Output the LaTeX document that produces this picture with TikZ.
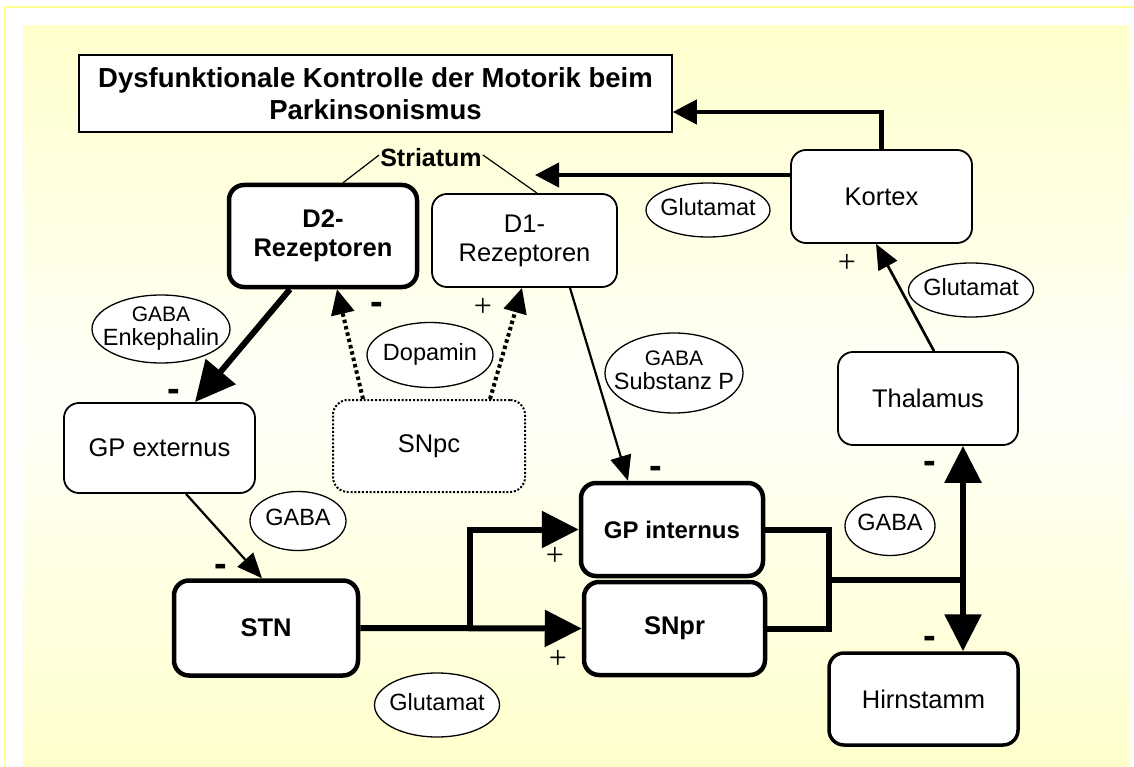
\documentclass[tikz,border=0pt]{standalone}
\usepackage{fontspec}
\setmainfont{Liberation Sans}
\newfontfamily\plusfont{Liberation Serif}
\usepackage{xcolor}
\usepackage{tikz}
\usetikzlibrary{arrows.meta,positioning,shapes.geometric}
\definecolor{paleyel}{RGB}{255,255,204}
\definecolor{rimyel}{RGB}{255,255,150}
\newcommand{\elltxt}[1]{\makebox[0pt]{\begin{tabular}{@{}c@{}}#1\end{tabular}}}

\begin{document}
\begin{tikzpicture}[x=1pt, y=-1pt,
    box/.style={draw, fill=white, rounded corners=15pt, line width=1.8pt, align=center,
      inner sep=0pt, font=\fontsize{25.5}{29}\selectfont},
    boldbox/.style={box, line width=4.5pt, font=\fontsize{25.5}{29}\selectfont\bfseries},
    ell/.style={draw, ellipse, fill=white, line width=1.3pt, inner sep=0pt,
      font=\fontsize{23.5}{22}\selectfont},
    minussign/.style={inner sep=0pt, font=\fontsize{38}{38}\selectfont\bfseries},
    plussign/.style={inner sep=0pt, font=\fontsize{32}{32}\selectfont\plusfont},
    arr/.style={line width=2.2pt, -{Triangle[length=25pt, width=21pt]}},
    midarr/.style={line width=4.3pt, -{Triangle[length=24pt, width=24pt]}},
    fatline/.style={line width=6pt},
    fatarr/.style={fatline, -{Triangle[length=37pt, width=36pt]}},
    dotarr/.style={line width=4pt, dash pattern=on 3.5pt off 3pt,
      -{Triangle[length=25pt, width=23pt]}},
    striline/.style={line width=1.2pt}]

  \useasboundingbox (0,0) rectangle (1134,767);
  \fill[top color=paleyel, bottom color=paleyel, middle color=paleyel!12]
    (23,26) rectangle (1129,767);
  \draw[rimyel, line width=2pt] (5,767) -- (5,7) -- (1134,7);

  \node[box, sharp corners, line width=1.5pt, minimum width=593pt, minimum height=77pt,
    font=\fontsize{27.5}{32}\selectfont\bfseries] (title) at (375.5,93.5)
    {Dysfunktionale Kontrolle der Motorik beim\\Parkinsonismus};
  \node[inner sep=1pt, font=\fontsize{25}{28}\selectfont\bfseries] (stri) at (431,158) {Striatum};

  \node[boldbox, minimum width=188pt, minimum height=102pt] (d2) at (323,236) {D2-\\Rezeptoren};
  \node[box, minimum width=185pt, minimum height=93pt] (d1) at (524.5,240.5) {D1-\\Rezeptoren};
  \node[box, minimum width=181pt, minimum height=93pt] (kortex) at (881.5,196.5) {Kortex};
  \node[box, minimum width=191pt, minimum height=90pt] (gpe) at (159.5,448) {GP externus};
  \node[box, line width=2pt, dash pattern=on 2pt off 1.8pt, minimum width=192pt,
    minimum height=92pt] (snpc) at (429,446) {SNpc};
  \node[box, minimum width=180pt, minimum height=93pt] (thal) at (928,398.5) {Thalamus};
  \node[boldbox, minimum width=184pt, minimum height=95pt] (stn) at (266,628) {STN};
  \node[boldbox, minimum width=182pt, minimum height=93pt,
    font=\fontsize{24}{28}\selectfont\bfseries] (gpi) at (672,529.5) {GP internus};
  \node[boldbox, minimum width=181pt, minimum height=93pt] (snpr) at (674.5,628.5) {SNpr};
  \node[box, line width=3.5pt, minimum width=189pt, minimum height=92pt] (hirn) at (923.5,699) {Hirnstamm};

  \node[ell, minimum width=124pt, minimum height=54pt] (glu1) at (708,210) {\elltxt{Glutamat}};
  \node[ell, minimum width=125pt, minimum height=54pt] (glu2) at (971,290) {\elltxt{Glutamat}};
  \node[ell, minimum width=138pt, minimum height=68pt] (enk) at (161,329)
    {\elltxt{{\fontsize{21}{22}\selectfont GABA}\\Enkephalin}};
  \node[ell, minimum width=126pt, minimum height=65pt] (dopa) at (430,355) {\elltxt{Dopamin}};
  \node[ell, minimum width=138pt, minimum height=80pt] (subp) at (674,373)
    {\elltxt{{\fontsize{21}{22}\selectfont GABA}\\Substanz P}};
  \node[ell, minimum width=96pt, minimum height=59pt] (gaba1) at (298,521) {\elltxt{GABA}};
  \node[ell, minimum width=90pt, minimum height=59pt] (gaba2) at (890,526) {\elltxt{GABA}};
  \node[ell, minimum width=125pt, minimum height=64pt] (glu3) at (437,705) {\elltxt{Glutamat}};

  \node[minussign] (n1) at (174,395) {-};
  \node[minussign] (n2) at (377,308) {-};
  \node[minussign] (n3) at (221,570) {-};
  \node[minussign] (n4) at (656,472) {-};
  \node[minussign] (n5) at (930,467) {-};
  \node[minussign] (n6) at (930,642) {-};
  \node[plussign] (p1) at (483,307) {+};
  \node[plussign] (p2) at (847,263) {+};
  \node[plussign] (p3) at (555,556) {+};
  \node[plussign] (p4) at (558,659) {+};

  \coordinate (stritip) at (535,175);
  \coordinate (fork) at (470,628);
  \coordinate (merge) at (829,580);
  \coordinate (junc) at (963,580);

  \draw[striline] ([xshift=20pt]d2.north) -- ([yshift=3pt]stri.west);
  \draw[striline] ([xshift=12.5pt]d1.north) -- ([yshift=3pt]stri.east);
  \draw[midarr] (kortex.north) |- ([yshift=-18.5pt]title.east);
  \draw[midarr] (kortex.west |- stritip) -- (stritip);
  \draw[arr, line width=2.7pt] ([xshift=6pt]thal.north) -- ([xshift=-5.5pt]kortex.south);
  \draw[fatarr, -{Triangle[length=40pt, width=38pt]}] ([xshift=-33pt]d2.south) -- ([xshift=35.5pt]gpe.north);
  \draw[dotarr] ([xshift=-66pt]snpc.north) -- ([xshift=14pt]d2.south);
  \draw[dotarr] ([xshift=61pt]snpc.north) -- ([xshift=-2.5pt]d1.south);
  \draw[arr] ([xshift=45.5pt]d1.south) -- ([xshift=-44pt]gpi.north);
  \draw[arr] ([xshift=26.5pt]gpe.south) -- ([xshift=-4pt]stn.north);
  \draw[fatarr] (stn.east) -- (snpr.west);
  \draw[fatarr] (fork) |- (gpi.west);
  \draw[fatline] (gpi.east) -| (merge) |- (snpr.east);
  \draw[fatline] (merge) -- (junc);
  \draw[fatarr] (junc) -- (thal.south -| junc);
  \draw[fatarr] (junc) -- (hirn.north -| junc);
\end{tikzpicture}
\end{document}
